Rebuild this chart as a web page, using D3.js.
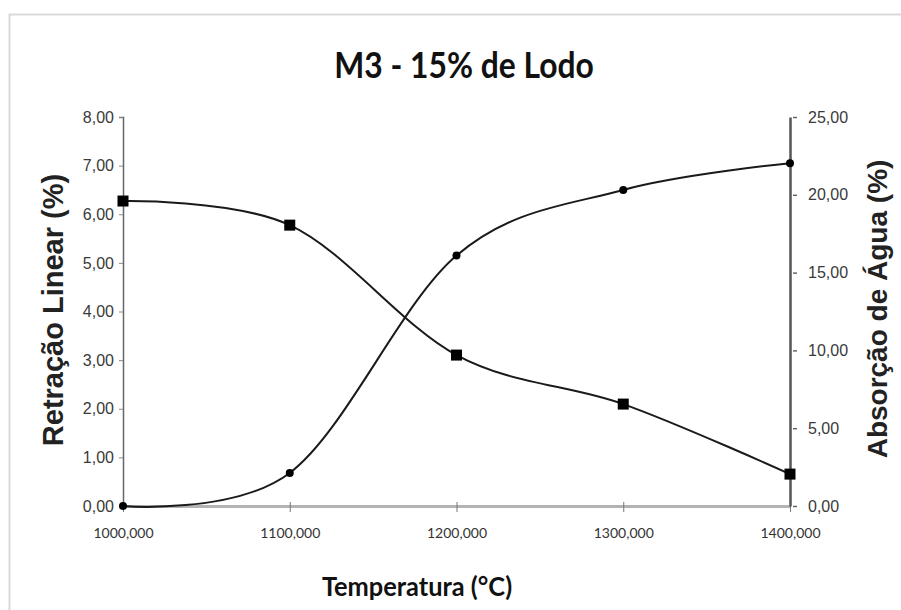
<!DOCTYPE html>
<html>
<head>
<meta charset="utf-8">
<script src="https://cdn.jsdelivr.net/npm/d3@7"></script>
<style>
  html, body { margin: 0; padding: 0; background: #fff; }
  svg { display: block; }
</style>
</head>
<body>
<svg id="chart" width="901" height="610"></svg>
<script>
// Firing temperatures (°C)
const temperatures = [1000, 1100, 1200, 1300, 1400];
// Linear shrinkage (%) – left axis
const retracaoLinear = [0.00, 0.68, 5.15, 6.50, 7.05];
// Water absorption (%) – right axis
const absorcaoAgua = [19.60, 18.05, 9.70, 6.55, 2.05];

const xTicks = [1000, 1100, 1200, 1300, 1400];
const yLeftTicks = [0, 1, 2, 3, 4, 5, 6, 7, 8];
const yRightTicks = [0, 5, 10, 15, 20, 25];

const titleText = "M3 - 15% de Lodo";
const xTitle = "Temperatura (°C)";
const yLeftTitle = "Retração Linear (%)";
const yRightTitle = "Absorção de Água (%)";

const svg = d3.select("#chart");
const W = 901, H = 610;
const plot = { left: 123, right: 790, top: 117, bottom: 506 };

const comma = (v, d) => v.toFixed(d).replace(".", ",");

const x = d3.scaleLinear().domain([1000, 1400]).range([plot.left, plot.right]);
const yL = d3.scaleLinear().domain([0, 8]).range([plot.bottom, plot.top]);
const yR = d3.scaleLinear().domain([0, 25]).range([plot.bottom, plot.top]);

// outer frame
svg.append("rect")
  .attr("x", 9.5).attr("y", 14.5)
  .attr("width", W).attr("height", H)
  .attr("fill", "#fff")
  .attr("stroke", "#d9d9d9").attr("stroke-width", 2);

// title (condensed horizontally)
svg.append("text")
  .attr("transform", "translate(464,78) scale(0.86,1)")
  .attr("text-anchor", "middle")
  .style("font-family", "Lato, 'Open Sans', sans-serif")
  .style("font-weight", 700)
  .style("font-size", "37px")
  .attr("fill", "#111")
  .text(titleText);

// x axis
const xAxis = svg.append("g").attr("transform", `translate(0,${plot.bottom})`)
  .call(d3.axisBottom(x).tickValues(xTicks).tickSize(0).tickFormat(d => comma(d, 3)));
xAxis.select(".domain").attr("stroke", "#b3b3b3").attr("stroke-width", 3);
xAxis.selectAll(".tick line").remove();
xAxis.selectAll(".tick").append("line")
  .attr("y1", -4).attr("y2", 6).attr("stroke", "#777").attr("stroke-width", 1);
xAxis.selectAll(".tick text")
  .attr("y", 22)
  .style("font-family", "Lato, sans-serif")
  .style("font-size", "14px")
  .attr("fill", "#333");

// left axis
const leftAxis = svg.append("g").attr("transform", `translate(${plot.left},0)`)
  .call(d3.axisLeft(yL).tickValues(yLeftTicks).tickSize(4).tickPadding(5).tickFormat(d => comma(d, 2)));
leftAxis.select(".domain").attr("stroke", "#666").attr("stroke-width", 1.5);
leftAxis.selectAll(".tick line").attr("stroke", "#888");
leftAxis.selectAll(".tick text")
  .style("font-family", "'Liberation Sans', Arial, sans-serif")
  .style("font-size", "16px")
  .attr("fill", "#3a3a3a");

// right axis
const rightAxis = svg.append("g").attr("transform", `translate(${plot.right},0)`)
  .call(d3.axisRight(yR).tickValues(yRightTicks).tickSize(0).tickPadding(18).tickFormat(d => comma(d, 2)));
rightAxis.select(".domain").attr("stroke", "#555").attr("stroke-width", 2.5);
rightAxis.selectAll(".tick").append("line")
  .attr("x1", 3).attr("x2", 7).attr("stroke", "#666").attr("stroke-width", 1.5);
rightAxis.selectAll(".tick text")
  .style("font-family", "'Liberation Sans', Arial, sans-serif")
  .style("font-size", "16px")
  .attr("fill", "#3a3a3a");

// axis titles
svg.append("text")
  .attr("transform", "translate(63,310) rotate(-90)")
  .attr("text-anchor", "middle")
  .style("font-family", "'Liberation Sans', Arial, sans-serif")
  .style("font-weight", 700)
  .style("font-size", "29px")
  .attr("fill", "#222")
  .text(yLeftTitle);

svg.append("text")
  .attr("transform", "translate(887,309) rotate(-90)")
  .attr("text-anchor", "middle")
  .style("font-family", "'Liberation Sans', Arial, sans-serif")
  .style("font-weight", 700)
  .style("font-size", "28px")
  .attr("fill", "#222")
  .text(yRightTitle);

svg.append("text")
  .attr("transform", "translate(417,596) scale(0.94,1)")
  .attr("text-anchor", "middle")
  .style("font-family", "Lato, sans-serif")
  .style("font-weight", 700)
  .style("font-size", "27px")
  .attr("fill", "#111")
  .text(xTitle);

// series
const shrink = temperatures.map((t, i) => ({ t, v: retracaoLinear[i] }));
const absorb = temperatures.map((t, i) => ({ t, v: absorcaoAgua[i] }));

const curve = d3.curveCatmullRom.alpha(0);

svg.append("path")
  .datum(shrink)
  .attr("fill", "none").attr("stroke", "#1a1a1a").attr("stroke-width", 2)
  .attr("d", d3.line().x(d => x(d.t)).y(d => yL(d.v)).curve(curve));

svg.append("path")
  .datum(absorb)
  .attr("fill", "none").attr("stroke", "#1a1a1a").attr("stroke-width", 2)
  .attr("d", d3.line().x(d => x(d.t)).y(d => yR(d.v)).curve(curve));

svg.selectAll("circle.shrink").data(shrink).enter().append("circle")
  .attr("class", "shrink")
  .attr("cx", d => x(d.t)).attr("cy", d => yL(d.v))
  .attr("r", 4).attr("fill", "#000");

svg.selectAll("rect.absorb").data(absorb).enter().append("rect")
  .attr("class", "absorb")
  .attr("x", d => x(d.t) - 5.5).attr("y", d => yR(d.v) - 5.5)
  .attr("width", 11).attr("height", 11).attr("fill", "#000");
</script>
</body>
</html>
